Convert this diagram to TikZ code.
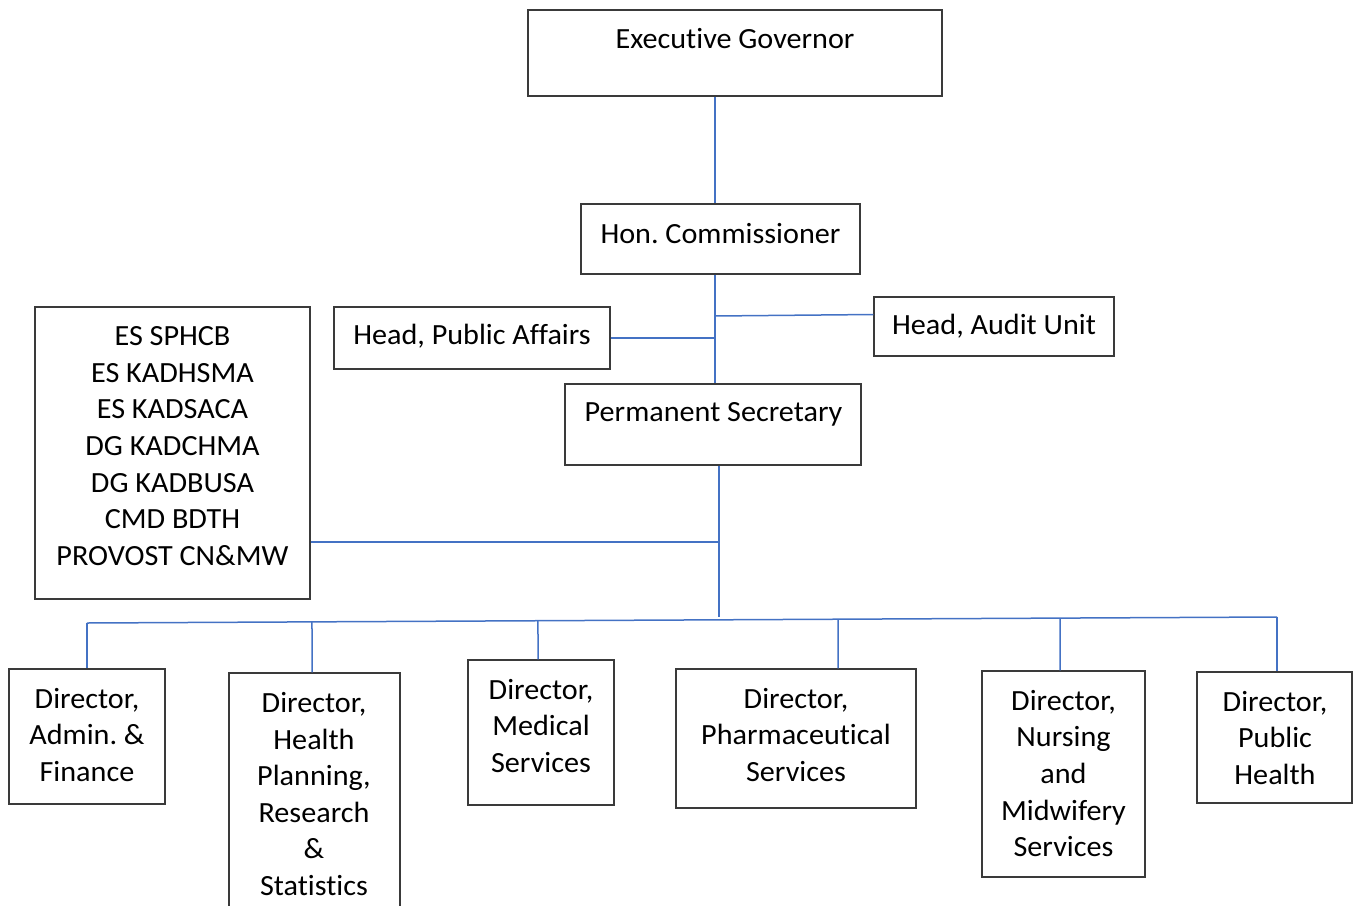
\documentclass[tikz,border=0pt]{standalone}
\usepackage{fontspec}
\setmainfont{Carlito}[Ligatures=NoCommon,FakeStretch=1.03]
\usetikzlibrary{calc}

\definecolor{linkblue}{HTML}{4472C4}
\definecolor{boxgray}{HTML}{3A3A3A}

\begin{document}
\begin{tikzpicture}[x=1pt,y=-1pt,
  orgbox/.style 2 args={draw=boxgray,line width=1.2pt,rectangle,inner sep=0pt,minimum width=#1,minimum height=#2},
  orgtext/.style={align=center,inner sep=0pt,font=\fontsize{29.3}{36.6}\selectfont\frenchspacing},
  link/.style={draw=linkblue,line width=1.5pt}]
\clip (0,0) rectangle (1357,905);

% top of the chart
\node[orgbox={414}{86}] (gov) at (735,53) {};
\node[orgtext] (govlbl) at (735,39) {Executive Governor};
\node[orgbox={279}{70}] (hon) at (720.5,239) {};
\node[orgtext] (honlbl) at (720.5,234) {Hon. Commissioner};
\node[orgbox={276}{62}] (pa) at (472,338) {};
\node[orgtext] (palbl) at (472,336) {Head, Public Affairs};
\node[orgbox={240}{59}] (audit) at (994,326.5) {};
\node[orgtext] (auditlbl) at (994,326) {Head, Audit Unit};
\node[orgbox={296}{81}] (perm) at (713,424.5) {};
\node[orgtext] (permlbl) at (713.5,414) {Permanent Secretary};
\node[orgbox={275}{292}] (es) at (172.5,453) {};
\node[orgtext] (eslbl) at (172.5,446) {ES SPHCB\\ES KADHSMA\\ES KADSACA\\DG KADCHMA\\DG KADBUSA\\CMD BDTH\\PROVOST CN\&MW};

% directors
\node[orgbox={156}{135}] (admin) at (87,736.5) {};
\node[orgtext] (adminlbl) at (87,735) {Director,\\Admin. \&\\Finance};
\node[orgbox={171}{252}] (health) at (314.5,799) {};
\node[orgtext] (healthlbl) at (314,794) {Director,\\Health\\Planning,\\Research\\\&\\Statistics};
\node[orgbox={146}{145}] (medical) at (541,732.5) {};
\node[orgtext] (medicallbl) at (541,726) {Director,\\Medical\\Services};
\node[orgbox={240}{139}] (pharm) at (796,738.5) {};
\node[orgtext] (pharmlbl) at (796,735) {Director,\\Pharmaceutical\\Services};
\node[orgbox={163}{206}] (nursing) at (1063.5,774) {};
\node[orgtext] (nursinglbl) at (1063.5,773.5) {Director,\\Nursing\\and\\Midwifery\\Services};
\node[orgbox={155}{131}] (public) at (1274.5,737.5) {};
\node[orgtext] (publiclbl) at (1275,738) {Director,\\Public\\Health};

% connectors
\coordinate (spine) at (715,0);
\coordinate (esjoin) at (719,542);
\coordinate (busL) at (87,623);
\coordinate (busR) at (1277,617);
\draw[link] (gov.south -| spine) -- (hon.north -| spine);
\draw[link] (hon.south -| spine) -- (perm.north -| spine);
\draw[link] (pa.east) -- (pa.east -| spine);
\draw[link] (spine |- 0,316) -- ([yshift=12pt]audit.west);
\draw[link] (perm.south -| esjoin) -- (esjoin |- busR);
\draw[link] (es.east |- esjoin) -- (esjoin);
\draw[link] (busL) -- (busR);
\foreach \d/\x in {admin/87,health/312,medical/538,pharm/838,nursing/1060,public/1277}
  \draw[link] ($(busL)!{(\x-87)/1190}!(busR)$) -- (\x,0 |- \d.north);
\end{tikzpicture}
\end{document}
